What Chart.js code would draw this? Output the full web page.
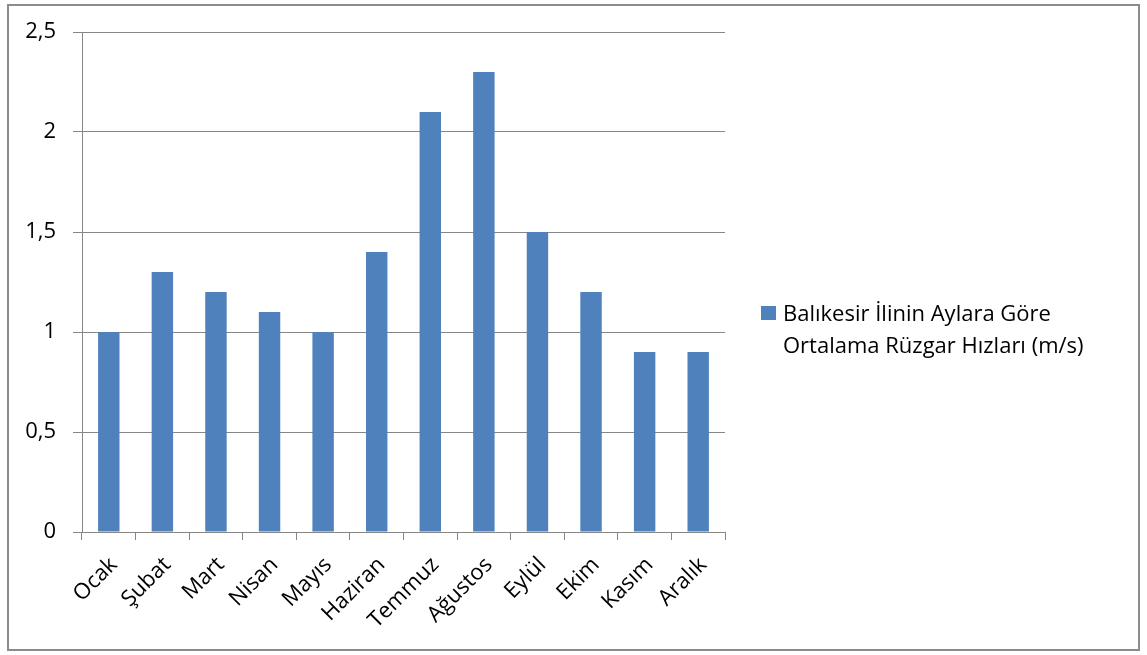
<!DOCTYPE html>
<html>
<head>
<meta charset="utf-8">
<script src="https://cdn.jsdelivr.net/npm/chart.js@4"></script>
<style>
html,body{margin:0;padding:0;background:#fff;}
#wrap{position:absolute;left:0;top:0;width:1147px;height:655px;}
</style>
</head>
<body>
<div id="wrap"><canvas id="c" width="1147" height="655"></canvas></div>
<script>
const categories = ["Ocak","Şubat","Mart","Nisan","Mayıs","Haziran","Temmuz","Ağustos","Eylül","Ekim","Kasım","Aralık"];
const seriesName = "Balıkesir İlinin Aylara Göre Ortalama Rüzgar Hızları (m/s)";
const legendLines = ["Balıkesir İlinin Aylara Göre","Ortalama Rüzgar Hızları (m/s)"];
const values = [1.0,1.3,1.2,1.1,1.0,1.4,2.1,2.3,1.5,1.2,0.9,0.9];
const yTicks = [0,0.5,1,1.5,2,2.5];

const FONT = '"Open Sans", "Noto Sans", sans-serif';
const GRID = '#868686';
const BAR = '#4F81BD';

const frame = {
  id:'frame',
  beforeDraw(chart){
    const ctx = chart.ctx;
    ctx.save();
    ctx.fillStyle='#fff';
    ctx.fillRect(0,0,chart.width,chart.height);
    ctx.strokeStyle='#8c8c8c';
    ctx.lineWidth=2;
    ctx.strokeRect(8,5,1131,645);
    ctx.restore();
  },
  afterDraw(chart){
    const ctx = chart.ctx;
    ctx.save();
    ctx.fillStyle = chart.data.datasets[0].backgroundColor;
    ctx.fillRect(761,306,15,14);
    ctx.fillStyle='#000';
    ctx.font = '22px ' + FONT;
    ctx.textBaseline='alphabetic';
    ctx.textAlign='left';
    ctx.fillText(legendLines[0],783,321);
    ctx.fillText(legendLines[1],783,353);
    ctx.restore();
  }
};

new Chart(document.getElementById('c'),{
  type:'bar',
  data:{
    labels:categories,
    datasets:[{label:seriesName,data:values,backgroundColor:BAR,borderWidth:0,
      categoryPercentage:0.8,barPercentage:0.5}]
  },
  options:{
    responsive:false,
    animation:false,
    layout:{padding:{left:0,top:32,right:422,bottom:0}},
    plugins:{legend:{display:false},tooltip:{enabled:false}},
    scales:{
      x:{
        offset:true,
        grid:{offset:true,drawOnChartArea:false,drawTicks:true,tickLength:8,color:GRID,lineWidth:1},
        border:{display:true,color:GRID,width:1},
        ticks:{minRotation:45,maxRotation:45,color:'#000',font:{family:FONT,size:22},padding:12,labelOffset:5,autoSkip:false},
        afterFit(s){s.height=123;}
      },
      y:{
        min:0,max:2.5,
        afterBuildTicks(s){s.ticks = yTicks.map(v=>({value:v}));},
        grid:{color:GRID,lineWidth:1,drawTicks:true,tickLength:9},
        border:{display:true,color:GRID,width:1},
        ticks:{color:'#000',font:{family:FONT,size:22},padding:17,
          callback:(v)=>String(v).replace('.',',')},
        afterFit(s){s.width=82;}
      }
    }
  },
  plugins:[frame]
});
</script>
</body>
</html>
